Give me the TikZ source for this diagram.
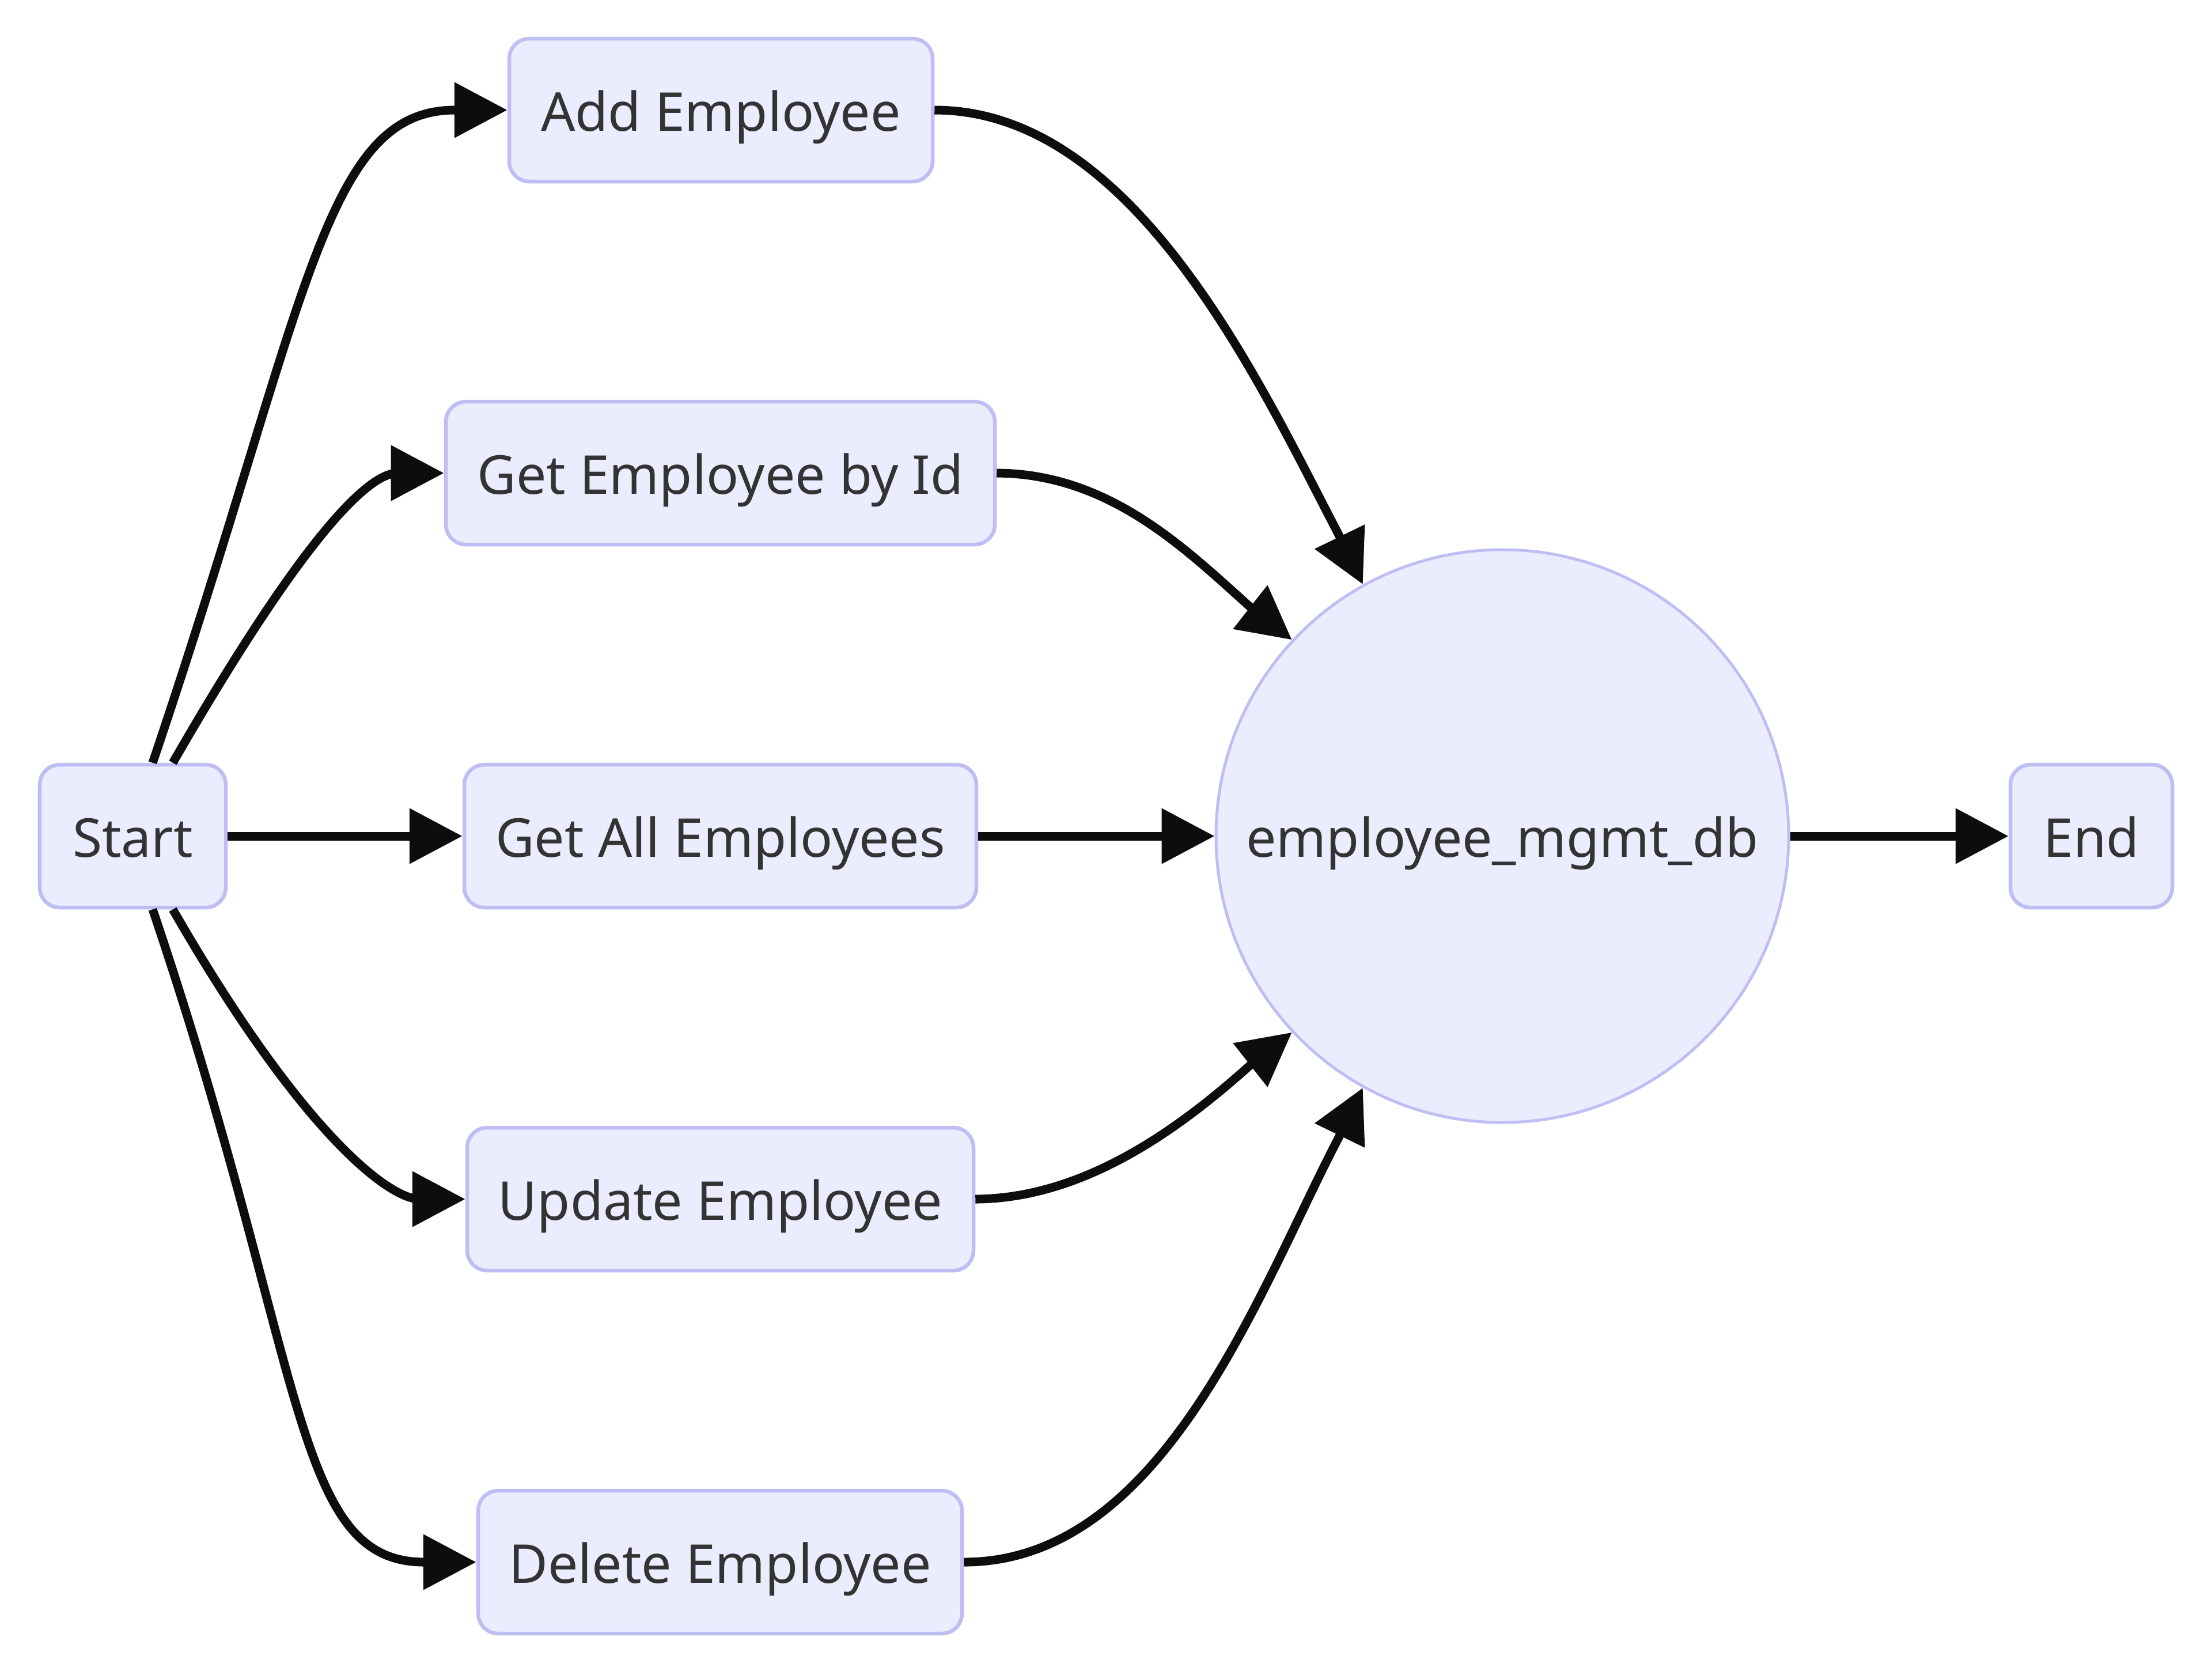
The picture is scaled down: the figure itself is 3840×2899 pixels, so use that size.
\documentclass[tikz,border=0pt]{standalone}
\usepackage{fontspec}
\setmainfont{Noto Sans}
\usetikzlibrary{arrows.meta}
\definecolor{nodefill}{RGB}{236,236,255}
\definecolor{nodeline}{RGB}{190,190,245}
\definecolor{txt}{RGB}{51,51,51}
\definecolor{edgecol}{RGB}{13,13,13}
\begin{document}
\begin{tikzpicture}[x=0.2pt,y=-0.2pt,
  lbl/.style={text=txt, font=\fontsize{18.6pt}{22pt}\selectfont, text height=19.9pt, text depth=5.45pt},
  box/.style={lbl, draw=nodeline, line width=1.3pt, fill=nodefill, rounded corners=7pt, minimum height=49.6pt, inner sep=0pt},
  dbnode/.style={lbl, circle, draw=nodeline, line width=1pt, fill=nodefill, minimum size=198.8pt, inner sep=0pt},
  flow/.style={draw=edgecol, line width=3pt, -{Triangle[length=18.4pt,width=18.6pt]}}]
\useasboundingbox (0,0) rectangle (3840,2899);

\node[box, minimum width=64.6pt] (start) at (230.5,1451) {Start};
\node[box, minimum width=147pt] (add) at (1251.5,191) {Add Employee};
\node[box, minimum width=190.6pt] (getid) at (1250.5,821) {Get Employee by Id};
\node[box, minimum width=177.8pt] (getall) at (1250.5,1451) {Get All Employees};
\node[box, minimum width=175.8pt] (update) at (1250.5,2081) {Update Employee};
\node[box, minimum width=168pt] (delete) at (1250,2711) {Delete Employee};
\node[dbnode] (db) at (2608,1451) {employee\_mgmt\_db};
\node[box, minimum width=56.2pt] (endn) at (3630.5,1451) {End};

% Start -> actions
\draw[flow] ([xshift=6.9pt]start.north) .. controls (534,528) and (560,191) .. (790,191) -- (add.west);
\draw[flow] ([xshift=13.9pt]start.north) .. controls (528,928) and (640,821) .. (690,821) -- (getid.west);
\draw[flow] (start.east) -- (getall.west);
\draw[flow] ([xshift=13.9pt]start.south) .. controls (528,1974) and (678,2081) .. (728,2081) -- (update.west);
\draw[flow] ([xshift=6.9pt]start.south) .. controls (534,2374) and (507,2711) .. (737,2711) -- (delete.west);

% actions -> db
\draw[flow] (add.east) .. controls (1969,191) and (2185,662) .. (2324,928) -- (db.119);
\draw[flow] (getid.east) .. controls (1927,822) and (2059,954) .. (2171,1054) -- (db.137);
\draw[flow] (getall.east) -- (db.west);
\draw[flow] (update.east) .. controls (1890,2080) and (2059,1948) .. (2171,1848) -- (db.-137);
\draw[flow] (delete.east) .. controls (2020,2711) and (2185,2240) .. (2324,1974) -- (db.-119);

% db -> End
\draw[flow] (db.east) -- (endn.west);
\end{tikzpicture}
\end{document}
